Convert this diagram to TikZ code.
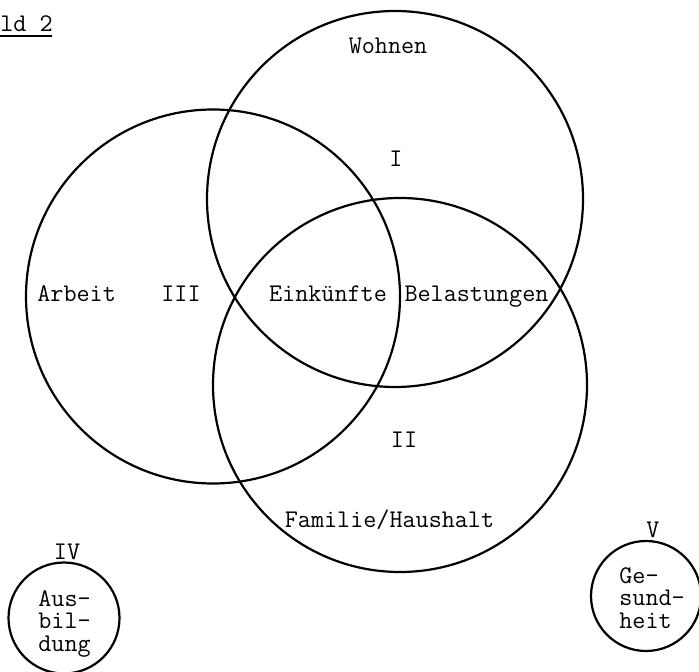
\documentclass[tikz,border=0pt]{standalone}
\usepackage{fontspec}
\setmonofont{Latin Modern Mono}
\begin{document}
\begin{tikzpicture}[x=0.5pt,y=-0.5pt,
  ring/.style={circle,draw,line width=1.1pt,inner sep=0pt},
  lbl/.style={inner sep=0pt,anchor=base,font=\ttfamily\fontsize{12.7pt}{11.25pt}\selectfont},
  lblw/.style={lbl,anchor=base west},
  stack/.style={lbl,anchor=base west,align=left}]
\useasboundingbox (0,0) rectangle (699,672);
% big circles
\node[ring,minimum size=188pt] (wohnen) at (395,199) {};
\node[ring,minimum size=187pt] (arbeit) at (213,296.5) {};
\node[ring,minimum size=187pt] (familie) at (400,385) {};
% small circles
\node[ring,minimum size=55.5pt] (ausb) at (64,618) {};
\node[ring,minimum size=55pt] (gesund) at (646,596) {};
% labels
\node[lblw] (title) at (0,32) {ld 2};
\draw[line width=0.8pt] (0,36) -- (52,36);
\node[lbl] (tw) at (388,54) {Wohnen};
\node[lbl] (tI) at (396,167) {I};
\node[lblw] (ta) at (37,302) {Arbeit};
\node[lbl] (tIII) at (181,302) {III};
\node[lbl] (te) at (328,302) {Einkünfte};
\node[lbl] (tb) at (476.5,302) {Belastungen};
\node[lbl] (tII) at (404,447) {II};
\node[lbl] (tf) at (389.5,527) {Familie/Haushalt};
\node[lbl] (tIV) at (67,559) {IV};
\node[stack] (ta1) at (38,651) {Aus-\\bil-\\dung};
\node[lbl] (tV) at (653,537) {V};
\node[stack] (tg1) at (619,628) {Ge-\\sund-\\heit};
\end{tikzpicture}
\end{document}
